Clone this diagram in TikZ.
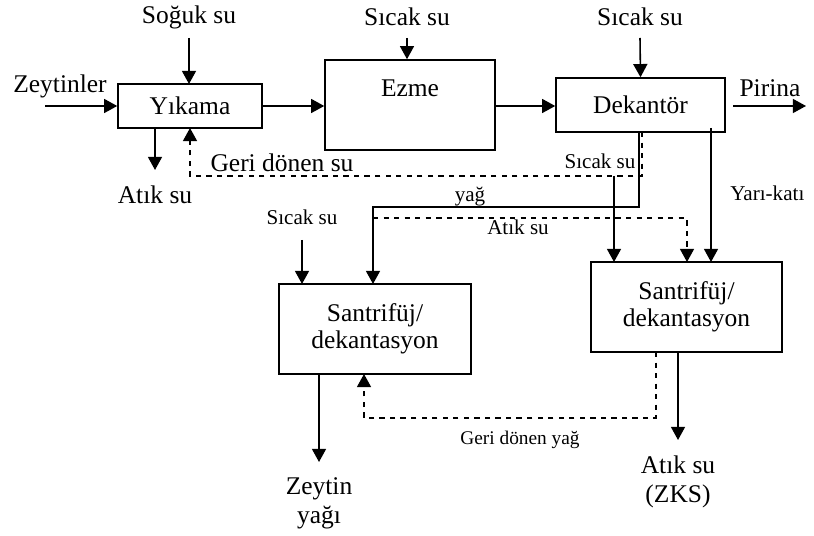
\documentclass[tikz,border=0pt]{standalone}
\usepackage{fontspec}
\setmainfont{Liberation Serif}
\usetikzlibrary{arrows.meta,positioning}
\tikzset{
    %Define standard arrow tip
    >={Triangle[length=7.5pt,width=8pt]},
    %Define style for boxes
    kutu/.style={
           draw=black, line width=0.9pt,
           align=center,
           font=\fontsize{14.5}{15.5}\selectfont},
    % Define arrow style
    pil/.style={
           ->,
           line width=0.9pt},
    kesik/.style={
           pil,
           dashed}
}

\begin{document}
\begin{tikzpicture}[x=0.02cm,y=-0.02cm,
yazi/.style={font=\fontsize{14.5}{16.5}\selectfont, inner sep=0, align=center},
kyazi/.style={font=\fontsize{12}{14}\selectfont, inner sep=0, align=center}
]
\useasboundingbox (0,0) rectangle (814,536);
%Nodes
\node[kutu, minimum width=2.88cm, minimum height=0.88cm] (yikama) at (190,106) {Y\i kama};
\node[kutu, minimum width=3.4cm, minimum height=1.8cm] (ezme) at (410,105) {};
\node[yazi] at (410,88) {Ezme};
\node[kutu, minimum width=3.38cm, minimum height=1.08cm] (dekantor) at (640.5,105) {Dekant\"or};
\node[kutu, minimum width=3.84cm, minimum height=1.8cm] (santL) at (375,329) {Santrif\"uj/\\dekantasyon};
\node[kutu, minimum width=3.82cm, minimum height=1.8cm] (santR) at (686.5,307) {Santrif\"uj/\\dekantasyon};
%Labels
\node[yazi] (zeytinler) at (60,86) {Zeytinler};
\node[yazi] (soguk) at (189,17) {So\u{g}uk su};
\node[yazi] (sicak1) at (407,17) {S\i cak su};
\node[yazi] (sicak2) at (640,17) {S\i cak su};
\node[yazi] (pirina) at (770,88) {Pirina};
\node[yazi] (atik1) at (155,195) {At\i k su};
\node[yazi] (geri1) at (282,163) {Geri d\"onen su};
\node[kyazi] (sicak3) at (600,161) {S\i cak su};
\node[kyazi] (sicak4) at (302,217) {S\i cak su};
\node[kyazi] (yag) at (470,197) {ya\u{g}};
\node[kyazi] (atik2) at (518,227) {At\i k su};
\node[kyazi, anchor=west] (yarikati) at (730,193) {Yar\i-kat\i};
\node[kyazi, font=\fontsize{11}{13}\selectfont] (geri2) at (520,440) {Geri d\"onen ya\u{g}};
\node[yazi] (zyag) at (319,503) {Zeytin\\ya\u{g}\i};
\node[yazi] (zks) at (678,482) {At\i k su\\(ZKS)};
%Free ends
\coordinate (c1) at (45,106);
\coordinate (c2) at (806,106);
\coordinate (c3) at (733,106);
%Arrows
\draw[pil] (c1) -- (yikama.west);
\draw[pil] (189,38) -- (189,84);
\draw[pil] (yikama.east) -- (yikama.east -| ezme.west);
\draw[pil] (407,38) -- (ezme.north -| 407,0);
\draw[pil] (ezme.east |- yikama.east) -- (dekantor.west |- yikama.east);
\draw[pil] (640,38) -- (dekantor.north);
\draw[pil] (c3) -- (c2);
\draw[pil] (155,128) -- (155,170);
\draw[kesik] (642,132) -- (642,176) -- (190,176) -- (190,128);
\draw[pil] (639,132) -- (639,207) -- (373,207) -- (373,284);
\draw[kesik] (373,218) -- (687,218) -- (687,262);
\draw[pil] (614,176) -- (614,262);
\draw[pil] (711,128) -- (711,262);
\draw[pil] (302,240) -- (302,284);
\draw[pil] (319,374) -- (319,462);
\draw[kesik] (656,352) -- (656,418) -- (364,418) -- (364,374);
\draw[pil] (678,352) -- (678,440);
\end{tikzpicture}
\end{document}
